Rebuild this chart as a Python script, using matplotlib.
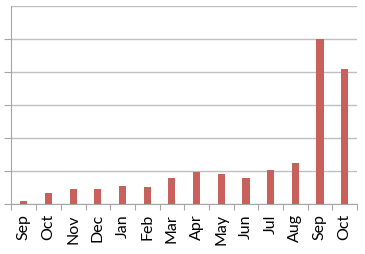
import matplotlib
matplotlib.use("Agg")
import matplotlib.pyplot as plt
import numpy as np

months = ["Sep", "Oct", "Nov", "Dec", "Jan", "Feb", "Mar",
          "Apr", "May", "Jun", "Jul", "Aug", "Sep", "Oct"]
values = [0.7, 3.1, 4.5, 4.5, 5.4, 5.1, 7.7, 9.7, 9.1, 7.9, 10.2, 12.4, 50.0, 40.8]

plt.rcParams['font.family'] = ['Lato', 'DejaVu Sans']

fig = plt.figure(figsize=(3.65, 2.55), dpi=100)
ax = fig.add_axes([0.0315, 0.198, 0.9465, 0.7745])

x = np.arange(len(months))
ax.bar(x, values, width=0.29, color='#C9605B', zorder=3)

ax.set_xlim(-0.5, len(months) - 0.5)
ax.set_ylim(0, 60)
ax.set_yticks(np.arange(0, 61, 10))
ax.set_yticklabels([])
ax.yaxis.grid(True, color='#BFBFBF', linewidth=1.0, zorder=0)

# ticks sit between categories, labels at the centres
ax.set_xticks(np.arange(-0.5, len(months), 1.0))
ax.set_xticklabels([])
ax.set_xticks(x, minor=True)
ax.set_xticklabels(months, minor=True, rotation=90, fontsize=11.5)
ax.tick_params(axis='x', which='minor', length=0, pad=7)
ax.tick_params(axis='x', which='major', length=4, color='#A6A6A6')
ax.tick_params(axis='y', length=5, color='#A6A6A6')
ax.yaxis.get_major_ticks()[-1].tick1line.set_visible(False)

for side in ['top', 'right']:
    ax.spines[side].set_visible(False)
for side in ['left', 'bottom']:
    ax.spines[side].set_color('#A6A6A6')

fig.savefig("out.png", dpi=100)
